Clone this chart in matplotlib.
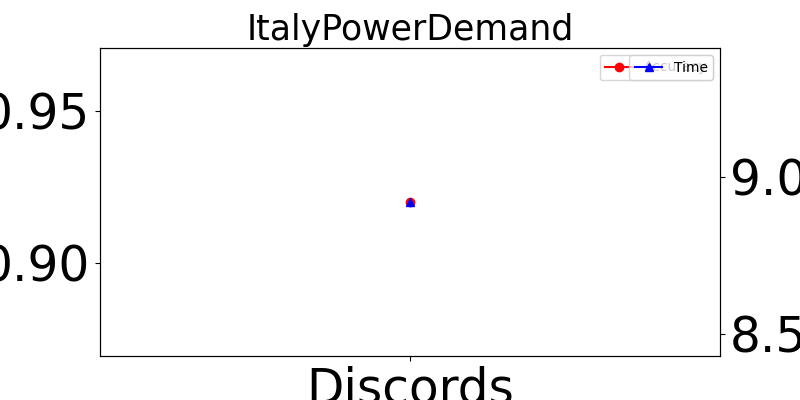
import matplotlib
matplotlib.use("Agg")
import matplotlib.pyplot as plt

# one dataset, one method
labels = ["Discords"]
accuracy = [0.92]
time = [8.92]

fig, ax1 = plt.subplots(figsize=(8, 4), dpi=100)
ax1.plot(labels, accuracy, color="red", marker="o", label="Accuracy")
ax1.tick_params(axis="both", labelsize=35)
ax1.legend(loc="upper right")

ax2 = ax1.twinx()
ax2.plot(labels, time, color="blue", marker="^", label="Time")
ax2.tick_params(axis="y", labelsize=35)
ax2.legend(loc="upper right")

plt.title("ItalyPowerDemand", fontsize=25)
plt.savefig("out.png")
